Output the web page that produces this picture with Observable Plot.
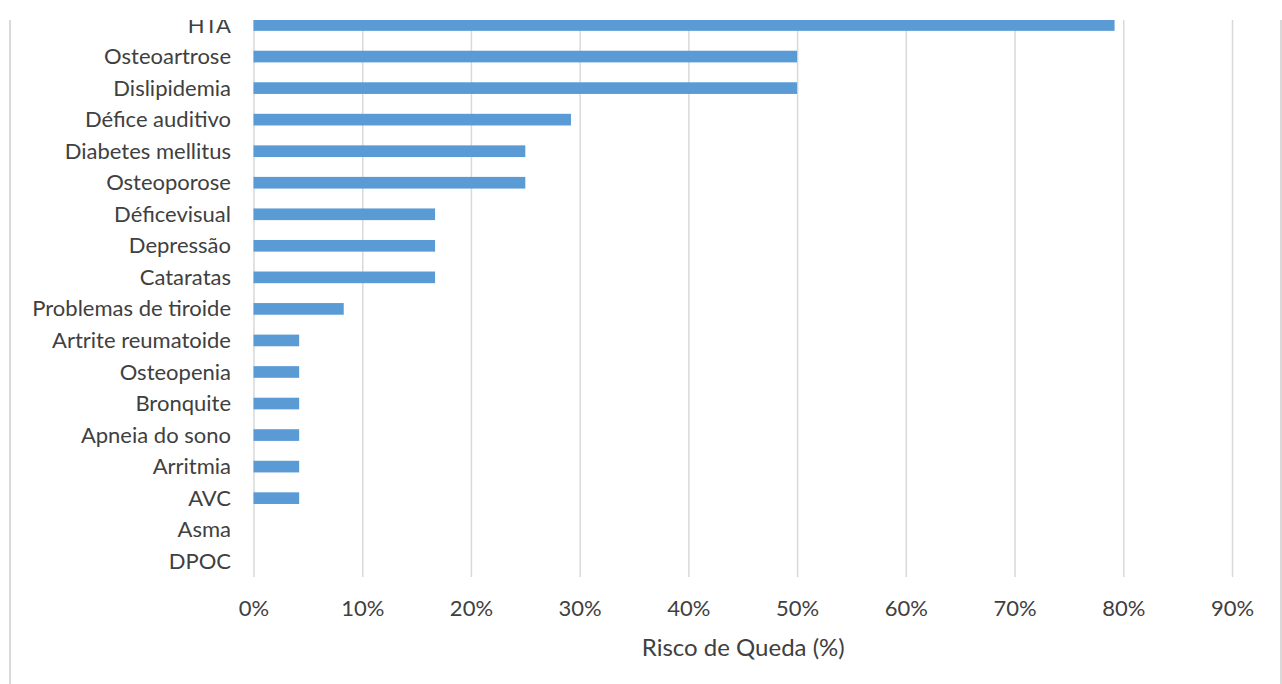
<!DOCTYPE html>
<html>
<head>
<meta charset="utf-8">
<script src="https://cdn.jsdelivr.net/npm/d3@7"></script>
<script src="https://cdn.jsdelivr.net/npm/@observablehq/plot@0.6"></script>
<style>
  html, body { margin: 0; padding: 0; background: #fff; }
  #wrap { position: relative; width: 1282px; height: 684px; overflow: hidden; }
  #chart { position: absolute; left: 0; top: 0; }
  #mask { position: absolute; left: 0; top: 0; width: 1282px; height: 20px; background: #fff; }
  .border { position: absolute; top: 20px; width: 2px; height: 664px; background: #d9d9d9; }
</style>
</head>
<body>
<div id="wrap">
  <div id="chart"></div>
  <div id="mask"></div>
  <div class="border" style="left:9px"></div>
  <div class="border" style="left:1280px"></div>
</div>
<script>
const categories = [
  "HTA", "Osteoartrose", "Dislipidemia", "Défice auditivo", "Diabetes mellitus",
  "Osteoporose", "Déficevisual", "Depressão", "Cataratas", "Problemas de tiroide",
  "Artrite reumatoide", "Osteopenia", "Bronquite", "Apneia do sono", "Arritmia",
  "AVC", "Asma", "DPOC"
];
const values = [
  0.792, 0.50, 0.50, 0.292, 0.25,
  0.25, 0.167, 0.167, 0.167, 0.083,
  0.042, 0.042, 0.042, 0.042, 0.042,
  0.042, 0, 0
];
const xTicks = [0, 0.1, 0.2, 0.3, 0.4, 0.5, 0.6, 0.7, 0.8, 0.9];
const xTitle = "Risco de Queda (%)";

const data = categories.map((c, i) => ({category: c, value: values[i]}));
const font = "Lato, 'Open Sans', sans-serif";

const chart = Plot.plot({
  width: 1282,
  height: 684,
  marginLeft: 253.5,
  marginRight: 50,
  marginTop: 9.25,
  marginBottom: 107,
  style: {fontFamily: font, fontSize: "22px", color: "#404040", background: "#fff"},
  x: {domain: [0, 0.9], ticks: xTicks, tickFormat: d3.format(".0%")},
  y: {domain: categories, paddingInner: 0.63, paddingOuter: 0.315, round: false},
  marks: [
    Plot.gridX(xTicks, {stroke: "#d9d9d9", strokeOpacity: 1, strokeWidth: 1.5}),
    Plot.barX(data, {x: "value", y: "category", fill: "#5b9bd5"}),
    Plot.axisY({tickSize: 0, tickPadding: 23, label: null, fill: "#404040", fontSize: 22}),
    Plot.axisX(xTicks, {tickSize: 0, tickPadding: 23, label: null, fill: "#404040", fontSize: 22, tickFormat: d3.format(".0%")}),
    Plot.text([xTitle], {frameAnchor: "bottom", dy: 71, lineAnchor: "middle", fill: "#404040", fontSize: 24, text: d => d})
  ]
});
document.getElementById("chart").appendChild(chart);
</script>
</body>
</html>
